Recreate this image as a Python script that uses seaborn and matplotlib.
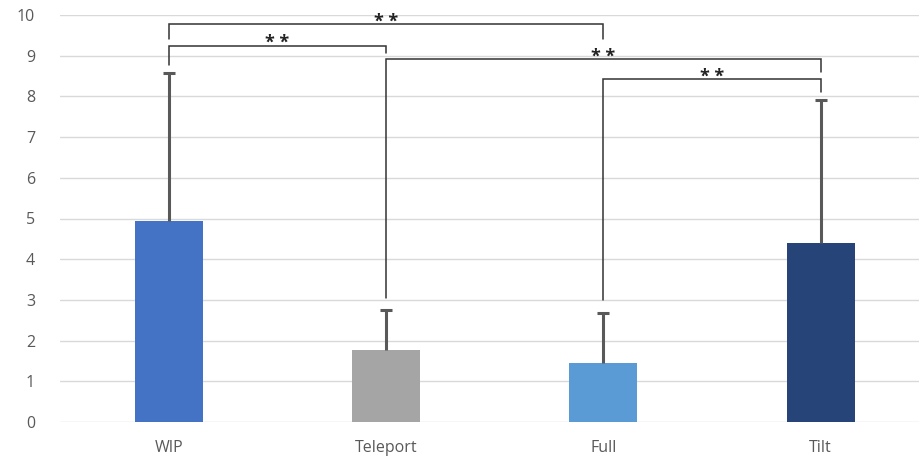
import numpy as np
import pandas as pd
import matplotlib
matplotlib.use('Agg')
import matplotlib.pyplot as plt
import seaborn as sns

# data
conditions = ['WIP', 'Teleport', 'Full', 'Tilt']
means = [4.95, 1.76, 1.46, 4.40]
sd_upper = [3.62, 1.00, 1.21, 3.51]
bar_colors = ['#4472C4', '#A5A5A5', '#5B9BD5', '#264478']

# significance brackets: (left idx, right idx, bracket y, left leg end, right leg end)
brackets = [
    (0, 2, 9.77, 9.42, 9.42),
    (0, 1, 9.25, 8.77, 9.07),
    (1, 3, 8.93, 3.05, 8.60),
    (2, 3, 8.43, 3.00, 8.10),
]
sig_label = '* *'

df = pd.DataFrame({'Condition': conditions, 'Mean': means, 'SD': sd_upper})
df['Top'] = df['Mean'] + df['SD']

sns.set_theme(style='white')
plt.rcParams['font.family'] = ['Open Sans', 'DejaVu Sans']

fig = plt.figure(figsize=(9.19, 4.59), dpi=100)
ax = fig.add_axes([60/919, 37/459, 859/919, 407/459])

sns.barplot(data=df, x='Condition', y='Mean', hue='Condition',
    palette=bar_colors, width=0.313, legend=False, ax=ax,
    saturation=1, linewidth=0, zorder=2)

# upper-only error bars
xpos = np.arange(len(conditions))
ax.vlines(xpos, df['Mean'], df['Top'], color='#595959', lw=2.2, zorder=3)
ax.plot(xpos, df['Top'], ls='none', marker='_', ms=9, mew=2.2,
    color='#595959', zorder=3)

# brackets
for i, j, yb, yl, yr in brackets:
    ax.plot([i, i, j, j], [yl, yb, yb, yr], color='#333333', lw=1.1,
        solid_joinstyle='miter', zorder=4)
    ax.text((i + j) / 2, yb + 0.05, sig_label, ha='center', va='center',
        fontsize=13, fontweight='bold', color='#222222', zorder=5)

ax.set_ylim(0, 10)
ax.set_xlim(-0.5, 3.453)
ax.set_yticks(range(0, 11))
ax.yaxis.grid(True, color='#D9D9D9', lw=1)
ax.set_axisbelow(True)
for s in ax.spines.values():
    s.set_visible(False)
ax.tick_params(axis='y', length=0, pad=18, labelsize=11.5, labelcolor='#595959')
ax.tick_params(axis='x', length=0, pad=13, labelsize=11.5, labelcolor='#595959')
ax.set_xlabel('')
ax.set_ylabel('')

fig.savefig('out.png', dpi=100)
